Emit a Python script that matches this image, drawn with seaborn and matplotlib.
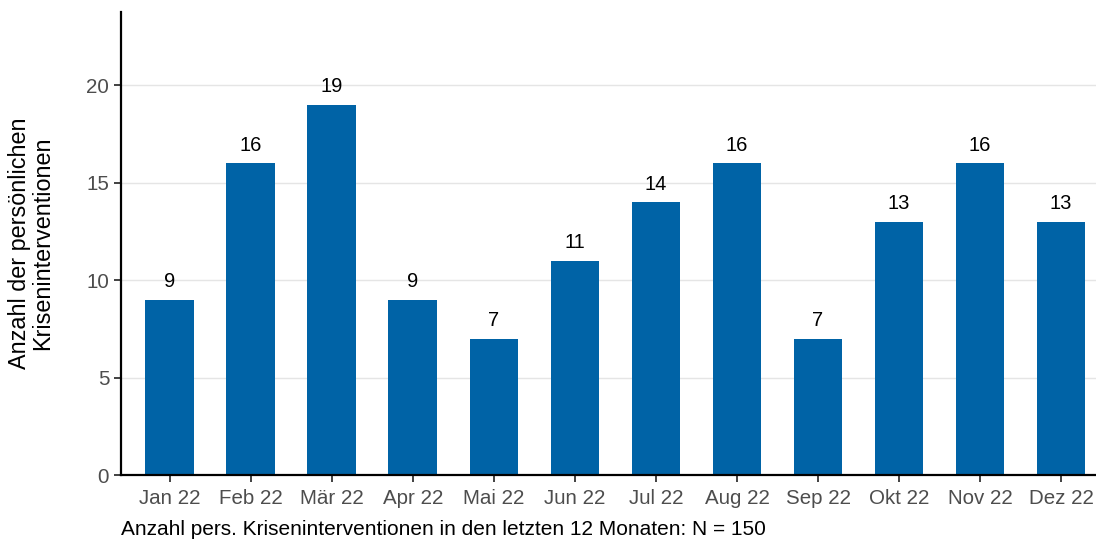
import pandas as pd
import matplotlib
matplotlib.use("Agg")
import matplotlib.pyplot as plt
import seaborn as sns

months = ["Jan 22", "Feb 22", "Mär 22", "Apr 22", "Mai 22", "Jun 22",
          "Jul 22", "Aug 22", "Sep 22", "Okt 22", "Nov 22", "Dez 22"]
counts = [9, 16, 19, 9, 7, 11, 14, 16, 7, 13, 16, 13]
y_ticks = [0, 5, 10, 15, 20]
y_label = "Anzahl der persönlichen\nKriseninterventionen"
caption = "Anzahl pers. Kriseninterventionen in den letzten 12 Monaten: N = 150"

df = pd.DataFrame({"Monat": months, "Anzahl": counts})

sns.set_style("white")
plt.rcParams["font.family"] = ["Liberation Sans", "DejaVu Sans"]

fig = plt.figure(figsize=(10.96, 5.39), dpi=100)
ax = fig.add_axes([0.1104, 0.1187, 0.8896, 0.859])

sns.barplot(data=df, x="Monat", y="Anzahl", color="#0063A6", width=0.6,
            saturation=1, linewidth=0, ax=ax, zorder=2)

for i, v in enumerate(counts):
    ax.annotate(str(v), (i, v), xytext=(0, 6), textcoords="offset points",
                ha="center", va="bottom", fontsize=14.5, color="black")

ax.set_ylim(0, 23.75)
ax.set_xlim(-0.6, 11.43)
ax.set_yticks(y_ticks)
ax.yaxis.grid(True, color="#e5e5e5", linewidth=1, zorder=0)
ax.set_axisbelow(True)

for s in ["top", "right"]:
    ax.spines[s].set_visible(False)
for s in ["left", "bottom"]:
    ax.spines[s].set_color("black")
    ax.spines[s].set_linewidth(1.6)

ax.tick_params(axis="both", bottom=True, left=True, colors="#333333",
               labelsize=14.8, length=5, width=1.3, labelcolor="#4d4d4d")
ax.tick_params(axis="x", pad=5)
ax.set_xlabel("")
ax.set_ylabel(y_label, fontsize=16.8, color="black", labelpad=23,
              linespacing=1.0)

fig.text(121 / 1096, 1 - 535 / 539, caption, fontsize=15, color="black",
         ha="left", va="baseline")

fig.savefig("out.png", dpi=100)
